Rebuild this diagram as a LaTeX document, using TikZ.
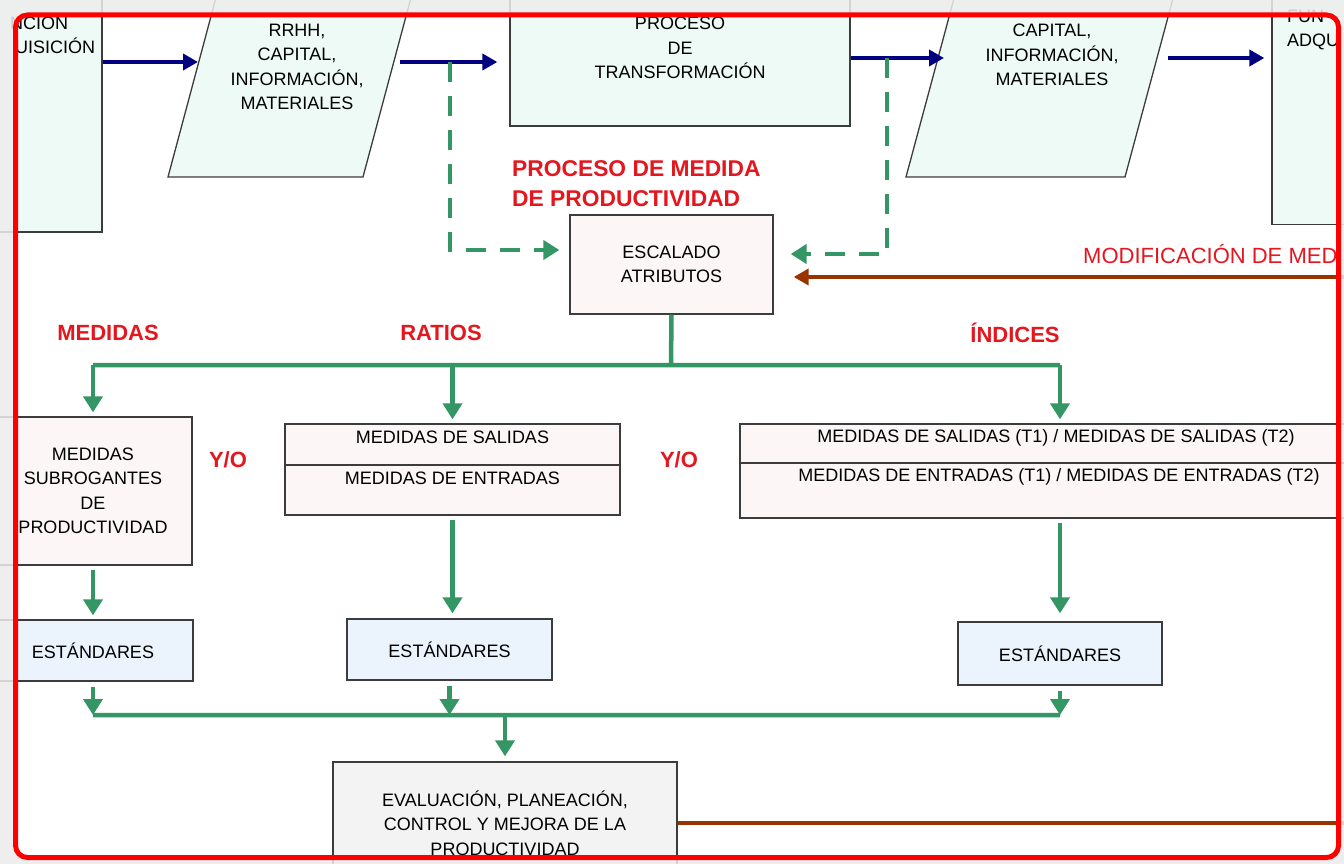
\documentclass[tikz,border=0pt]{standalone}
\usepackage{fontspec}
\setmainfont{Liberation Sans}
\usetikzlibrary{positioning,arrows.meta}
\definecolor{menta}{RGB}{237,250,245}
\definecolor{rosa}{RGB}{253,246,247}
\definecolor{celeste}{RGB}{235,244,253}
\definecolor{grisc}{RGB}{243,243,243}
\definecolor{fondo}{RGB}{238,238,238}
\definecolor{borde}{RGB}{60,60,60}
\definecolor{marino}{RGB}{0,0,128}
\definecolor{verde}{RGB}{51,150,100}
\definecolor{cafe}{RGB}{153,51,0}
\definecolor{rojo}{RGB}{228,22,30}

\begin{document}
\begin{tikzpicture}[x=1pt,y=-1pt,
	caja/.style={draw=borde,line width=1.3pt,fill=#1,align=center,inner sep=0pt,font=\fontsize{18}{24.5}\selectfont},
	caja/.default=menta,
	texto/.style={inner sep=0pt,font=\fontsize{18}{24.5}\selectfont},
	rotulo/.style={inner sep=0pt,text=rojo,font=\bfseries\fontsize{22}{30}\selectfont},
	flujo/.style={draw=marino,line width=4.5pt,-{Triangle[length=15pt,width=16pt]}},
	verdeL/.style={draw=verde,line width=4.5pt},
	verdeF/.style={verdeL,-{Triangle[length=16pt,width=19pt]}},
	punteada/.style={verdeF,dash pattern=on 20pt off 14pt},
	cafeL/.style={draw=cafe,line width=4.5pt}]
	\useasboundingbox (0,0) rectangle (1344,864);
	\clip (0,0) rectangle (1344,864);
	\fill[fondo] (0,0) rectangle (1344,864);
	\fill[white,rounded corners=12pt] (15,15) rectangle (1339,858);
	% fila superior
	\node[caja,minimum width=142pt,minimum height=272pt] (fun) at (31,96) {};
	\node[texto,anchor=base west] (funA) at (10,30) {NCION};
	\node[texto,anchor=base west] (funB) at (15,54) {UISICIÓN};
	\draw[caja] (168,177) -- (229,-51) -- (424,-51) -- (363,177) -- cycle;
	\node[texto,align=center] (ent) at (297,67) {RRHH,\\CAPITAL,\\INFORMACIÓN,\\MATERIALES};
	\coordinate (entI) at (199,62);
	\coordinate (entO) at (393,62);
	\node[caja,minimum width=340pt,minimum height=156pt] (proc) at (680,48) {PROCESO\\DE\\TRANSFORMACIÓN};
	\draw[caja] (906,177) -- (970,-61) -- (1189,-61) -- (1125,177) -- cycle;
	\node[texto,align=center] (sal) at (1052,55) {CAPITAL,\\INFORMACIÓN,\\MATERIALES};
	\coordinate (salI) at (940,58);
	\coordinate (salO) at (1158,58);
	\node[caja,minimum width=150pt,minimum height=265pt] (adq) at (1347,92) {};
	\node[texto,anchor=base west] (adqA) at (1287,23) {FUN};
	\node[texto,anchor=base west] (adqB) at (1287,47) {ADQU};
	\path (fun.east |- entI) edge[flujo,shorten >=1pt] (entI)
		(entO) edge[flujo,shorten <=7pt,shorten >=12pt] (entO -| proc.west)
		(proc.east |- salI) edge[flujo,shorten >=-4pt] (salI)
		(salO) edge[flujo,shorten <=10pt,shorten >=7pt] (salO -| adq.west);
	% medida de productividad
	\node[rotulo,anchor=north west,align=left,font=\bfseries\fontsize{22.8}{30}\selectfont] (tmed) at (512,160) {PROCESO DE MEDIDA\\DE PRODUCTIVIDAD};
	\node[caja=rosa,minimum width=203pt,minimum height=99pt] (esc) at (671.5,264.5) {ESCALADO\\ATRIBUTOS};
	\coordinate (d1) at (450,62);
	\coordinate (d2) at (887,58);
	\draw[punteada] (d1) |- ([xshift=-10pt,yshift=14.5pt]esc.west);
	\draw[punteada] (d2) |- ([xshift=17pt,yshift=10.5pt]esc.east);
	\coordinate (mr) at (1360,277);
	\draw[cafeL,-{Triangle[length=15pt,width=16pt]}] (mr) -- ([xshift=20pt]mr -| esc.east);
	\node[texto,anchor=base west,text=rojo,font=\fontsize{22}{24}\selectfont] (tmod) at (1083,263) {MODIFICACIÓN DE MED};
	% ramas
	\node[rotulo] (lmed) at (108,333) {MEDIDAS};
	\node[rotulo] (lrat) at (441,333) {RATIOS};
	\node[rotulo] (lind) at (1015,333) {ÍNDICES};
	\node[caja=rosa,minimum width=198pt,minimum height=148pt] (sub) at (93,491) {MEDIDAS\\SUBROGANTES\\DE\\PRODUCTIVIDAD};
	\node[caja=rosa,minimum width=335pt,minimum height=91pt] (rat) at (452.5,469.5) {};
	\node[texto] (ratS) at (452.5,437) {MEDIDAS DE SALIDAS};
	\node[texto] (ratE) at (452.5,478) {MEDIDAS DE ENTRADAS};
	\node[caja=rosa,minimum width=640pt,minimum height=94pt] (ind) at (1060,471) {};
	\node[texto] (indS) at (1056,438) {MEDIDAS DE SALIDAS (T1) / MEDIDAS DE SALIDAS (T2)};
	\node[texto] (indE) at (1059,477) {MEDIDAS DE ENTRADAS (T1) / MEDIDAS DE ENTRADAS (T2)};
	\draw[borde,line width=1.3pt] ([yshift=4.5pt]rat.west) -- ([yshift=4.5pt]rat.east)
		([yshift=8pt]ind.west) -- ([yshift=8pt]ind.east);
	\node[rotulo] (yo1) at (228,460) {Y/O};
	\node[rotulo] (yo2) at (679,460) {Y/O};
	\node[caja=celeste,minimum width=200pt,minimum height=61pt] (est1) at (93,650.5) {ESTÁNDARES};
	\node[caja=celeste,minimum width=205pt,minimum height=61pt] (est2) at (449.5,649.5) {ESTÁNDARES};
	\node[caja=celeste,minimum width=204pt,minimum height=63pt] (est3) at (1060,653.5) {ESTÁNDARES};
	\node[caja=grisc,minimum width=344pt,minimum height=122pt] (eva) at (505,823) {EVALUACIÓN, PLANEACIÓN,\\CONTROL Y MEJORA DE LA\\PRODUCTIVIDAD};
	\coordinate (b1) at (671,365);
	\coordinate (b2) at (505,715);
	\draw[verdeL] (esc.south) -- (b1) (b1 -| sub.north) -- (b1 -| ind.north)
		(b2 -| est1.south) -- (b2 -| est3.south);
	\path (b1 -| sub.north) edge[verdeF,shorten >=4pt] (sub.north)
		(b1 -| rat.north) edge[verdeF,shorten >=4pt] (rat.north)
		(b1 -| ind.north) edge[verdeF,shorten >=4pt] (ind.north);
	\path (sub) edge[verdeF,shorten <=4pt,shorten >=4pt] (est1)
		(rat.south) edge[verdeF,shorten <=4pt,shorten >=5pt] (rat.south |- est2.north)
		(ind) edge[verdeF,shorten <=4pt,shorten >=8pt] (est3);
	\path (est1.south) edge[verdeF,shorten <=5pt] (est1.south |- b2)
		(est2.south) edge[verdeF,shorten <=5pt] (est2.south |- b2)
		(est3.south) edge[verdeF,shorten <=5pt] (est3.south |- b2)
		(b2) edge[verdeF,shorten >=5pt] (eva.north);
	\draw[cafeL] (eva.east) -- (eva.east -| mr);
	% marco
	\fill[fondo,opacity=0.85,even odd rule] (0,0) rectangle (1344,864)
		[rounded corners=12pt] (15,15) rectangle (1339,858);
	\draw[red,line width=5pt,rounded corners=12pt] (15.5,15) rectangle (1338.5,857.5);
\end{tikzpicture}
\end{document}
